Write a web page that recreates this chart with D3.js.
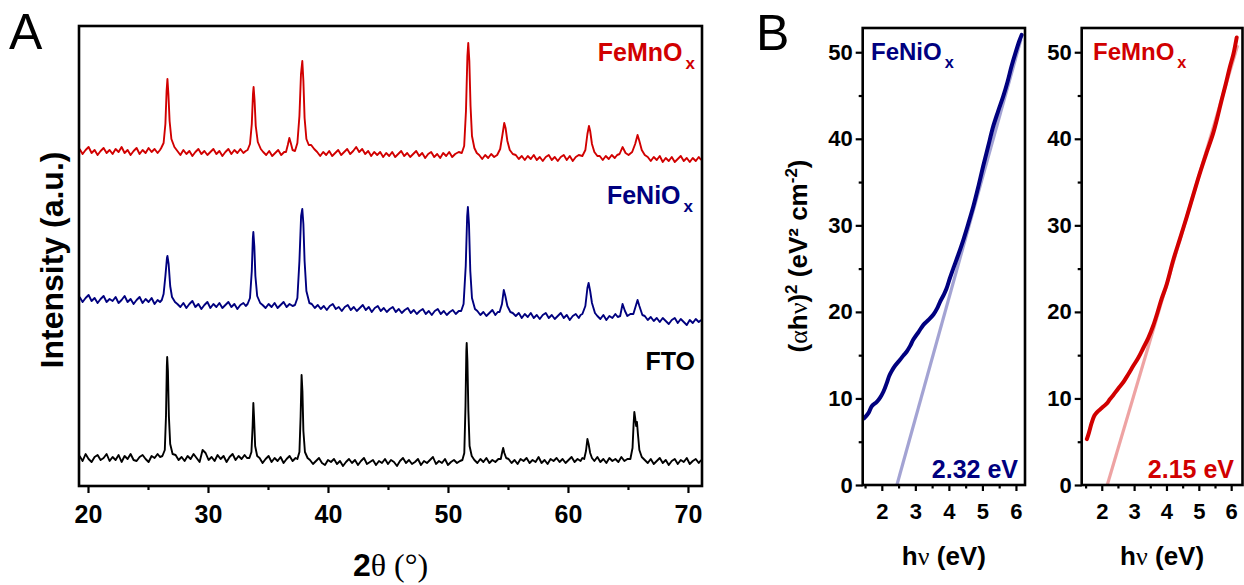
<!DOCTYPE html>
<html><head><meta charset="utf-8">
<script src="https://cdn.jsdelivr.net/npm/d3@7"></script>
<style>
body{margin:0;background:#fff}
svg{display:block}
text{font-family:'Liberation Sans',Arial,Helvetica,sans-serif}
</style>
</head><body>
<svg id="c" width="1244" height="585"></svg>
<script>
// ---------------- DATA ----------------
// Panel A: XRD patterns (2θ in degrees, intensity in a.u., stacked with offsets)
const xrdMajorTicks = [20, 30, 40, 50, 60, 70];
const xrdMinorTicks = [25, 35, 45, 55, 65];
const xrdLabels = ["FeMnO", "FeNiO", "FTO"];

const ftoXRD = [
 [19.3,30],[19.55,25],[19.8,32],[20.05,27],[20.3,24],[20.55,29],[20.8,31],[21.05,26],[21.3,28],[21.55,32],[21.8,25],[22.05,29],[22.3,26],[22.55,31],[22.8,24],[23.05,30],[23.3,27],[23.55,32],[23.8,26],[24.05,25],[24.3,29],[24.55,31],[24.8,27],[25.05,24],[25.3,30],[25.55,28],[25.8,32],[26.0,29],
 [26.2,30],[26.4,36],[26.5,70],[26.57,120],[26.6,129],[26.66,115],[26.74,70],[26.85,42],[27.05,32],
 [27.3,31],[27.55,26],[27.8,29],[28.05,25],[28.3,30],[28.55,27],[28.8,32],[29.05,28],[29.3,24],[29.55,36],[29.8,33],[30.05,26],[30.3,29],[30.55,25],[30.8,31],[31.05,27],[31.3,30],[31.55,24],[31.8,29],[32.05,32],[32.3,26],[32.55,30],[32.8,27],[33.05,31],[33.25,28],
 [33.45,28],[33.62,34],[33.72,60],[33.78,83],[33.84,68],[33.93,40],[34.1,30],
 [34.3,28],[34.55,23],[34.8,27],[35.05,30],[35.3,24],[35.55,28],[35.8,25],[36.05,29],[36.3,23],[36.55,27],[36.8,30],[37.05,25],[37.3,28],
 [37.45,27],[37.62,34],[37.72,70],[37.8,111],[37.87,95],[37.95,55],[38.08,34],[38.3,28],
 [38.5,26],[38.75,22],[39.0,25],[39.25,28],[39.5,23],[39.75,21],[40.0,26],[40.25,24],[40.5,27],[40.75,22],[41.0,25],[41.25,20],[41.5,24],[41.75,27],[42.0,23],[42.25,26],[42.5,21],[42.75,25],[43.0,28],[43.25,22],[43.5,24],[43.75,26],[44.0,21],[44.25,25],[44.5,23],[44.75,27],[45.0,22],[45.25,26],[45.5,24],[45.75,20],[46.0,25],[46.25,28],[46.5,23],[46.75,26],[47.0,22],[47.25,24],[47.5,27],[47.75,21],[48.0,25],[48.25,23],[48.5,26],[48.75,29],[49.0,22],[49.25,25],[49.5,23],[49.75,27],[50.0,21],[50.25,24],[50.5,26],[50.75,23],[51.0,25],
 [51.2,26],[51.36,33],[51.46,80],[51.53,135],[51.56,143],[51.62,125],[51.7,75],[51.8,40],[51.98,30],
 [52.2,26],[52.45,23],[52.7,27],[52.95,24],[53.2,28],[53.45,23],[53.7,26],[53.95,24],[54.2,27],
 [54.4,27],[54.52,34],[54.6,38],[54.7,33],[54.85,28],
 [55.05,27],[55.3,23],[55.55,26],[55.8,22],[56.05,27],[56.3,25],[56.55,28],[56.8,23],[57.05,26],[57.3,24],[57.55,29],[57.8,23],[58.05,26],[58.3,22],[58.55,27],[58.8,25],[59.05,28],[59.3,24],[59.55,27],[59.8,23],[60.05,26],[60.3,29],[60.55,24],[60.8,27],[61.05,25],[61.2,28],
 [61.35,27],[61.5,35],[61.62,47],[61.72,42],[61.85,33],[62.0,28],
 [62.2,25],[62.45,29],[62.7,24],[62.95,27],[63.2,23],[63.45,28],[63.7,25],[63.95,27],[64.2,24],[64.45,29],[64.7,25],[64.95,27],
 [65.2,27],[65.38,38],[65.47,62],[65.53,74],[65.6,68],[65.68,60],[65.75,64],[65.83,52],[65.95,36],[66.15,29],
 [66.4,26],[66.65,23],[66.9,27],[67.15,22],[67.4,25],[67.65,28],[67.9,23],[68.15,26],[68.4,21],[68.65,25],[68.9,27],[69.15,22],[69.4,26],[69.65,24],[69.9,28],[70.15,22],[70.4,25],[70.65,27],[70.9,23],[71.1,26]];

const feNiOxXRD = [
 [19.3,189],[19.55,184],[19.8,188],[20.05,191],[20.3,185],[20.55,188],[20.8,183],[21.05,187],[21.3,190],[21.55,184],[21.8,187],[22.05,185],[22.3,189],[22.55,183],[22.8,186],[23.05,190],[23.3,184],[23.55,187],[23.8,182],[24.05,186],[24.3,189],[24.55,183],[24.8,187],[25.05,184],[25.3,188],[25.55,182],[25.8,186],[26.0,184],
 [26.15,186],[26.3,192],[26.45,210],[26.58,228],[26.62,230],[26.72,222],[26.85,200],[27.0,189],[27.25,184],
 [27.45,182],[27.7,179],[27.95,183],[28.2,178],[28.45,182],[28.7,185],[28.95,179],[29.2,182],[29.45,177],[29.7,181],[29.95,184],[30.2,178],[30.45,182],[30.7,179],[30.95,183],[31.2,178],[31.45,181],[31.7,184],[31.95,179],[32.2,182],[32.45,177],[32.7,181],[32.95,183],[33.15,180],
 [33.3,182],[33.5,188],[33.65,215],[33.74,248],[33.78,254],[33.86,240],[33.95,210],[34.1,190],[34.35,183],
 [34.55,181],[34.8,178],[35.05,182],[35.3,179],[35.55,183],[35.8,178],[36.05,181],[36.3,184],[36.55,179],[36.8,182],[37.05,180],
 [37.25,181],[37.45,188],[37.62,225],[37.76,270],[37.86,277],[37.95,262],[38.05,225],[38.2,195],[38.45,183],
 [38.65,182],[38.9,178],[39.15,181],[39.4,177],[39.65,180],[39.9,176],[40.15,180],[40.4,182],[40.65,177],[40.9,179],[41.15,175],[41.4,179],[41.65,181],[41.9,176],[42.15,179],[42.4,175],[42.65,178],[42.9,181],[43.15,176],[43.4,179],[43.65,174],[43.9,178],[44.15,180],[44.4,175],[44.65,178],[44.9,174],[45.15,177],[45.4,179],[45.65,174],[45.9,177],[46.15,173],[46.4,176],[46.65,178],[46.9,173],[47.15,176],[47.4,172],[47.65,175],[47.9,177],[48.15,172],[48.4,175],[48.65,171],[48.9,175],[49.15,177],[49.4,172],[49.65,175],[49.9,171],[50.15,174],[50.4,176],[50.65,172],[50.9,175],
 [51.1,175],[51.3,182],[51.48,220],[51.6,270],[51.66,279],[51.75,262],[51.86,215],[52.0,188],[52.25,177],
 [52.45,175],[52.7,171],[52.95,174],[53.2,170],[53.45,173],[53.7,176],[53.95,171],[54.15,174],
 [54.3,174],[54.5,182],[54.65,196],[54.78,190],[54.95,180],[55.2,174],
 [55.4,173],[55.65,170],[55.9,173],[56.15,168],[56.4,172],[56.65,169],[56.9,173],[57.15,168],[57.4,171],[57.65,167],[57.9,171],[58.15,173],[58.4,168],[58.65,171],[58.9,167],[59.15,170],[59.4,173],[59.65,168],[59.9,171],[60.15,166],[60.4,170],[60.65,172],[60.9,168],[61.05,171],
 [61.2,172],[61.45,180],[61.62,198],[61.72,203],[61.85,195],[62.0,183],[62.25,173],
 [62.45,170],[62.7,167],[62.95,171],[63.2,166],[63.45,170],[63.7,168],[63.95,172],[64.15,169],
 [64.35,170],[64.55,182],[64.75,175],
 [64.95,170],[65.2,172],
 [65.45,172],[65.65,180],[65.8,186],[65.95,180],[66.2,171],
 [66.4,170],[66.65,166],[66.9,169],[67.15,165],[67.4,168],[67.65,164],[67.9,168],[68.15,165],[68.4,162],[68.65,166],[68.9,168],[69.15,163],[69.4,167],[69.65,164],[69.9,161],[70.15,166],[70.4,163],[70.65,167],[70.9,164],[71.1,166]];

const feMnOxXRD = [
 [19.3,337],[19.55,332],[19.8,336],[20.05,339],[20.3,333],[20.55,336],[20.8,331],[21.05,335],[21.3,338],[21.55,333],[21.8,336],[22.05,332],[22.3,337],[22.55,334],[22.8,339],[23.05,333],[23.3,336],[23.55,331],[23.8,335],[24.05,338],[24.3,332],[24.55,336],[24.8,333],[25.05,338],[25.3,334],[25.55,337],[25.8,333],[26.0,336],
 [26.1,338],[26.3,343],[26.45,362],[26.55,395],[26.62,407],[26.7,392],[26.8,365],[26.95,347],[27.2,339],
 [27.45,335],[27.7,331],[27.95,336],[28.2,332],[28.45,335],[28.7,330],[28.95,334],[29.2,337],[29.45,332],[29.7,335],[29.95,331],[30.2,334],[30.45,337],[30.7,332],[30.95,335],[31.2,330],[31.45,334],[31.7,337],[31.95,332],[32.2,336],[32.45,333],[32.7,337],[32.95,333],[33.15,335],
 [33.3,336],[33.5,342],[33.65,362],[33.75,392],[33.8,399],[33.88,386],[33.98,360],[34.15,344],[34.4,337],
 [34.6,334],[34.85,331],[35.1,335],[35.35,330],[35.6,333],[35.85,336],[36.1,331],[36.35,334],
 [36.5,334],[36.65,341],[36.78,348],[36.9,343],[37.05,336],
 [37.25,335],[37.45,343],[37.62,370],[37.75,412],[37.86,425],[37.95,405],[38.05,368],[38.2,347],[38.4,341],
 [38.6,341],[38.85,337],[39.1,334],[39.35,330],[39.6,334],[39.85,331],[40.1,335],[40.35,330],[40.6,333],[40.85,336],[41.1,331],[41.35,334],[41.6,337],[41.85,332],[42.1,335],[42.35,339],[42.6,334],[42.85,337],[43.1,332],[43.35,335],[43.6,330],[43.85,334],[44.1,331],[44.35,334],[44.6,329],[44.85,333],[45.1,330],[45.35,334],[45.6,329],[45.85,332],[46.1,335],[46.35,330],[46.6,333],[46.85,329],[47.1,332],[47.35,335],[47.6,330],[47.85,333],[48.1,328],[48.35,332],[48.6,334],[48.85,329],[49.1,332],[49.35,328],[49.6,333],[49.85,330],[50.1,334],[50.35,329],[50.6,332],[50.9,334],
 [51.15,333],[51.35,340],[51.5,375],[51.62,430],[51.69,443],[51.78,425],[51.88,380],[52.0,350],[52.2,338],[52.4,333],
 [52.6,331],[52.85,327],[53.1,331],[53.35,328],[53.6,332],[53.85,329],
 [54.1,331],[54.35,337],[54.55,352],[54.69,363],[54.8,358],[54.95,345],[55.15,336],[55.4,332],
 [55.65,331],[55.9,327],[56.15,330],[56.4,326],[56.65,330],[56.9,327],[57.15,331],[57.4,326],[57.65,329],[57.9,325],[58.15,329],[58.4,331],[58.65,326],[58.9,329],[59.15,325],[59.4,329],[59.65,331],[59.9,326],[60.15,330],[60.4,325],[60.65,329],[60.9,331],
 [61.2,330],[61.45,336],[61.62,352],[61.75,360],[61.85,355],[62.0,342],[62.2,334],[62.45,330],
 [62.65,330],[62.9,326],[63.15,330],[63.4,327],[63.65,331],[63.9,328],[64.1,331],
 [64.3,332],[64.55,339],[64.8,333],
 [65.05,331],
 [65.35,334],[65.6,342],[65.8,351],[65.95,345],[66.15,336],[66.4,331],
 [66.65,329],[66.9,325],[67.15,329],[67.4,326],[67.65,330],[67.9,324],[68.15,328],[68.4,325],[68.65,329],[68.9,324],[69.15,327],[69.4,330],[69.65,325],[69.9,328],[70.15,324],[70.4,328],[70.65,325],[70.9,329],[71.1,326]];

// Panel B: Tauc plots (hν in eV, (αhν)^2 in eV² cm⁻²)
const taucMajorX = [2, 3, 4, 5, 6];
const taucMinorX = [1.5, 2.5, 3.5, 4.5, 5.5];
const taucMajorY = [0, 10, 20, 30, 40, 50];
const taucMinorY = [5, 15, 25, 35, 45];

const feNiOxTauc = [[1.47,7.7],[1.6,8.3],[1.7,9.1],[1.85,9.6],[1.95,10.1],[2.05,10.8],[2.15,11.8],[2.22,12.6],[2.3,13.2],[2.4,13.8],[2.55,14.5],[2.65,15.0],[2.74,15.4],[2.85,16.1],[2.94,16.8],[3.1,17.7],[3.24,18.5],[3.4,19.1],[3.54,19.7],[3.65,20.4],[3.74,21.2],[3.85,22.0],[3.93,22.7],[4.03,23.9],[4.13,25.0],[4.28,26.6],[4.43,28.3],[4.58,30.2],[4.73,32.2],[4.88,34.5],[5.02,36.8],[5.17,39.1],[5.32,41.4],[5.47,43.2],[5.62,44.9],[5.75,46.6],[5.87,48.4],[6.0,50.1],[6.1,51.3],[6.17,52.0]];
const feMnOxTauc = [[1.54,5.3],[1.6,6.0],[1.69,7.2],[1.77,8.0],[1.85,8.4],[2.0,8.9],[2.15,9.4],[2.25,9.9],[2.36,10.4],[2.5,11.1],[2.67,11.9],[2.82,12.8],[2.98,13.8],[3.13,14.7],[3.28,15.8],[3.44,17.0],[3.59,18.4],[3.72,19.9],[3.85,21.5],[4.0,23.1],[4.21,26.0],[4.42,28.5],[4.62,30.9],[4.82,33.4],[5.03,36.0],[5.24,38.4],[5.44,40.6],[5.57,42.4],[5.70,44.4],[5.83,46.3],[5.96,48.3],[6.07,49.8],[6.17,51.7]];
const feNiOxFit = [[2.45,0],[6.15,51.5]];
const feMnOxFit = [[2.17,0],[6.2,50.8]];
const bandGaps = ["2.32 eV", "2.15 eV"];

// ---------------- STYLE ----------------
const RED = "#d10000", BLUE = "#00007f", BLACK = "#000";
const SANS = "'Liberation Sans',Arial,Helvetica,sans-serif";
const SERIF = "'Liberation Serif','Times New Roman',serif";

const svg = d3.select("#c");

// ---------------- PANEL A ----------------
const A = {l: 79, r: 702, t: 26, b: 486};
const xA = d3.scaleLinear().domain([19.25, 71.17]).range([A.l, A.r]);
const yA = d3.scaleLinear().domain([0, 460]).range([A.b, A.t]);

svg.append("clipPath").attr("id", "clipA").append("rect")
  .attr("x", A.l).attr("y", A.t).attr("width", A.r - A.l).attr("height", A.b - A.t);

const lineA = d3.line().x(d => xA(d[0])).y(d => yA(d[1]));
const gA = svg.append("g").attr("clip-path", "url(#clipA)");
[[ftoXRD, BLACK], [feNiOxXRD, BLUE], [feMnOxXRD, RED]].forEach(([data, col]) => {
  gA.append("path").datum(data).attr("d", lineA)
    .attr("fill", "none").attr("stroke", col).attr("stroke-width", 1.9).attr("stroke-linejoin", "round");
});

function styleAxis(g, fs) {
  g.select(".domain").remove();
  g.selectAll(".tick line").attr("stroke", "#000").attr("stroke-width", 2.2);
  g.selectAll(".tick text").attr("font-size", fs).attr("font-weight", "bold").attr("fill", "#000")
    .attr("font-family", SANS);
}

const axA = svg.append("g").attr("transform", `translate(0,${A.b})`)
  .call(d3.axisBottom(xA).tickValues(xrdMajorTicks).tickSize(7).tickPadding(12).tickFormat(d3.format("d")));
styleAxis(axA, 25);
const axAm = svg.append("g").attr("transform", `translate(0,${A.b})`)
  .call(d3.axisBottom(xA).tickValues(xrdMinorTicks).tickSize(4).tickFormat(""));
styleAxis(axAm, 25);

svg.append("rect").attr("x", A.l).attr("y", A.t).attr("width", A.r - A.l).attr("height", A.b - A.t)
  .attr("fill", "none").attr("stroke", "#000").attr("stroke-width", 2.6);

// series labels
function subLabel(x, y, main, sub, col, fs, anchor) {
  const t = svg.append("text").attr("x", x).attr("y", y).attr("fill", col)
    .attr("font-size", fs).attr("font-weight", "bold").attr("text-anchor", anchor);
  t.append("tspan").text(main);
  if (sub) t.append("tspan").attr("dx", 3).attr("dy", 8).attr("font-size", fs * 0.68).text(sub);
  return t;
}
subLabel(695, 61, xrdLabels[0], "x", RED, 25, "end");
subLabel(693, 204, xrdLabels[1], "x", BLUE, 25, "end");
subLabel(695, 370, xrdLabels[2], null, BLACK, 25, "end");

// axis titles A
const xtA = svg.append("text").attr("x", (A.l + A.r) / 2).attr("y", 576).attr("text-anchor", "middle").attr("font-size", 32);
xtA.append("tspan").attr("font-weight", "bold").attr("font-family", SANS).text("2");
xtA.append("tspan").attr("font-family", SERIF).text("θ (°)");

svg.append("text").attr("transform", "translate(63,260) rotate(-90)").attr("text-anchor", "middle")
  .attr("font-size", 32).attr("font-weight", "bold").text("Intensity (a.u.)");

svg.append("text").attr("x", 9).attr("y", 49).attr("font-size", 50).text("A");
svg.append("text").attr("x", 756).attr("y", 50).attr("font-size", 50).text("B");

// ---------------- PANEL B ----------------
const Bt = 28, Bb = 485;
const yB = d3.scaleLinear().domain([0, 52.8]).range([Bb, Bt]);
const panelsB = [
  {l: 862.7, r: 1025, dom: [1.43, 6.27], data: feNiOxTauc, fit: feNiOxFit, col: BLUE, fitCol: "#a3a3d3",
   name: "FeNiO", nameX: 871, gap: bandGaps[0], gapX: 1018, id: "clipB1"},
  {l: 1081.7, r: 1242.5, dom: [1.38, 6.35], data: feMnOxTauc, fit: feMnOxFit, col: RED, fitCol: "#eea3a3",
   name: "FeMnO", nameX: 1093, gap: bandGaps[1], gapX: 1234, id: "clipB2"}
];

panelsB.forEach(p => {
  const x = d3.scaleLinear().domain(p.dom).range([p.l, p.r]);
  svg.append("clipPath").attr("id", p.id).append("rect")
    .attr("x", p.l).attr("y", Bt).attr("width", p.r - p.l).attr("height", Bb - Bt);
  const g = svg.append("g").attr("clip-path", `url(#${p.id})`);
  const ln = d3.line().x(d => x(d[0])).y(d => yB(d[1]));
  g.append("path").datum(p.fit).attr("d", ln).attr("fill", "none").attr("stroke", p.fitCol).attr("stroke-width", 3.2);
  g.append("path").datum(p.data).attr("d", ln.curve(d3.curveCatmullRom)).attr("fill", "none")
    .attr("stroke", p.col).attr("stroke-width", 4).attr("stroke-linecap", "round").attr("stroke-linejoin", "round");

  const ax = svg.append("g").attr("transform", `translate(0,${Bb})`)
    .call(d3.axisBottom(x).tickValues(taucMajorX).tickSize(6).tickPadding(12).tickFormat(d3.format("d")));
  styleAxis(ax, 22);
  const axm = svg.append("g").attr("transform", `translate(0,${Bb})`)
    .call(d3.axisBottom(x).tickValues(taucMinorX).tickSize(3.5).tickFormat(""));
  styleAxis(axm, 22);
  const ay = svg.append("g").attr("transform", `translate(${p.l},0)`)
    .call(d3.axisLeft(yB).tickValues(taucMajorY).tickSize(7).tickPadding(3).tickFormat(d3.format("d")));
  styleAxis(ay, 22);
  const aym = svg.append("g").attr("transform", `translate(${p.l},0)`)
    .call(d3.axisLeft(yB).tickValues(taucMinorY).tickSize(4).tickFormat(""));
  styleAxis(aym, 22);

  svg.append("rect").attr("x", p.l).attr("y", Bt).attr("width", p.r - p.l).attr("height", Bb - Bt)
    .attr("fill", "none").attr("stroke", "#000").attr("stroke-width", 2.6);

  subLabel(p.nameX, 60, p.name, "x", p.col, 24, "start");
  svg.append("text").attr("x", p.gapX).attr("y", 478).attr("text-anchor", "end")
    .attr("font-size", 25).attr("font-weight", "bold").attr("fill", p.col).text(p.gap);

  const xt = svg.append("text").attr("x", (p.l + p.r) / 2).attr("y", 565).attr("text-anchor", "middle")
    .attr("font-size", 26).attr("font-weight", "bold");
  xt.append("tspan").text("h");
  xt.append("tspan").attr("font-family", SERIF).attr("font-weight", "normal").text("ν");
  xt.append("tspan").text(" (eV)");
});

// y title B
const yt = svg.append("text").attr("transform", "translate(807,256) rotate(-90)").attr("text-anchor", "middle")
  .attr("font-size", 26).attr("font-weight", "bold");
yt.append("tspan").text("(");
yt.append("tspan").attr("font-family", SERIF).attr("font-weight", "normal").text("α");
yt.append("tspan").text("h");
yt.append("tspan").attr("font-family", SERIF).attr("font-weight", "normal").text("ν");
yt.append("tspan").text(")");
yt.append("tspan").attr("dy", -10).attr("font-size", 17).text("2");
yt.append("tspan").attr("dy", 10).text(" (eV² cm");
yt.append("tspan").attr("dy", -10).attr("font-size", 17).text("-2");
yt.append("tspan").attr("dy", 10).text(")");
</script>
</body></html>
